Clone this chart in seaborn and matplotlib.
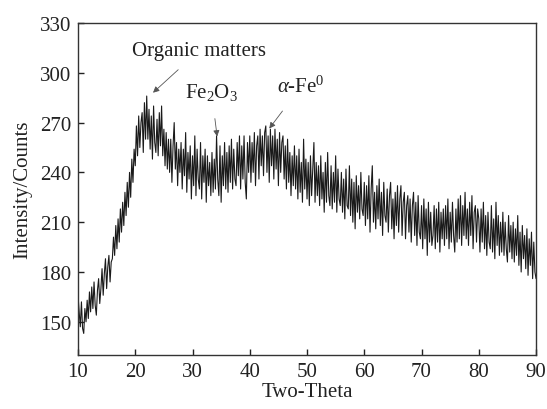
import numpy as np
import pandas as pd
import matplotlib
matplotlib.use("Agg")
import matplotlib.pyplot as plt
import seaborn as sns

# Two-theta grid (0.2 deg step) and intensity values
two_theta = [round(10 + 0.2 * i, 1) for i in range(401)]
intensity = [
    166, 156, 147, 162, 146, 143, 158, 150, 163, 152,
    168, 156, 171, 158, 174, 160, 154, 169, 176, 161,
    170, 182, 166, 179, 188, 170, 183, 190, 174, 186,
    188, 201, 190, 208, 194, 212, 198, 218, 204, 222,
    208, 228, 214, 234, 219, 240, 225, 248, 234, 254,
    244, 268, 250, 274, 255, 270, 276, 252, 282, 260,
    286, 260, 278, 254, 274, 248, 280, 258, 252, 272,
    250, 276, 256, 280, 250, 266, 244, 264, 242, 260,
    240, 260, 234, 256, 270, 242, 258, 232, 254, 240,
    258, 230, 254, 238, 264, 228, 252, 236, 256, 224,
    250, 232, 262, 226, 254, 236, 230, 258, 224, 250,
    234, 254, 222, 250, 232, 246, 226, 252, 228, 248,
    230, 262, 236, 226, 256, 222, 250, 232, 258, 230,
    252, 228, 256, 234, 260, 230, 254, 236, 232, 258,
    238, 262, 230, 256, 236, 262, 234, 224, 258, 240,
    262, 234, 258, 240, 264, 232, 256, 262, 236, 266,
    244, 262, 238, 264, 268, 240, 262, 234, 266, 244,
    262, 236, 266, 242, 260, 232, 264, 240, 258, 262,
    236, 256, 230, 260, 234, 252, 226, 250, 232, 256,
    230, 250, 224, 254, 228, 246, 222, 260, 230, 248,
    224, 246, 220, 250, 226, 242, 258, 222, 246, 226,
    244, 220, 250, 224, 240, 216, 246, 222, 252, 226,
    220, 244, 218, 240, 222, 250, 216, 242, 224, 220,
    240, 216, 236, 212, 242, 220, 218, 244, 214, 236,
    210, 234, 206, 238, 216, 232, 212, 240, 218, 214,
    234, 208, 232, 212, 238, 204, 230, 244, 210, 228,
    206, 232, 212, 236, 208, 228, 202, 234, 214, 210,
    230, 204, 226, 234, 206, 224, 200, 228, 208, 232,
    204, 224, 232, 202, 222, 228, 200, 220, 226, 204,
    224, 198, 220, 228, 202, 222, 196, 226, 204, 200,
    220, 194, 224, 200, 218, 190, 222, 198, 216, 196,
    202, 220, 194, 218, 198, 222, 192, 216, 200, 218,
    196, 220, 200, 224, 194, 216, 198, 222, 202, 192,
    218, 198, 224, 200, 226, 196, 220, 202, 228, 200,
    218, 196, 222, 202, 226, 194, 216, 220, 198, 218,
    212, 192, 218, 198, 222, 194, 214, 190, 216, 198,
    194, 220, 192, 212, 188, 222, 196, 214, 190, 210,
    192, 216, 190, 210, 194, 186, 214, 192, 208, 188,
    210, 186, 206, 190, 214, 184, 204, 180, 208, 188,
    202, 182, 206, 178, 200, 184, 204, 176, 198, 180,
    176,
]

x_ticks = [10, 20, 30, 40, 50, 60, 70, 80, 90]
y_ticks = [150, 180, 210, 240, 270, 300, 330]

sns.set_theme(style="ticks")
plt.rcParams["font.family"] = ["Liberation Serif", "DejaVu Serif"]
plt.rcParams["mathtext.fontset"] = "custom"
plt.rcParams["mathtext.rm"] = "Liberation Serif"
plt.rcParams["mathtext.it"] = "Liberation Serif:italic"

df = pd.DataFrame({"Two-Theta": two_theta, "Intensity": intensity})

fig = plt.figure(figsize=(5.47, 4.10), dpi=100)
ax = fig.add_axes([0.1426, 0.1317, 0.8374, 0.8098])
sns.lineplot(data=df, x="Two-Theta", y="Intensity", ax=ax, color="#1a1a1a",
             linewidth=0.8, estimator=None)

ax.set_xlim(10, 90)
ax.set_ylim(130, 330)
ax.set_xticks(x_ticks)
ax.set_yticks(y_ticks)
ax.tick_params(direction="in", length=4, width=1, labelsize=15, colors="#222222",
               top=False, right=False, pad=5)
for s in ax.spines.values():
    s.set_linewidth(1.0)
    s.set_color("#333333")
ax.set_xlabel("Two-Theta", fontsize=15, color="#222222", labelpad=1)
ax.set_ylabel("Intensity/Counts", fontsize=15, color="#222222", labelpad=5)

fs = 15
ax.annotate("Organic matters", xy=(23.1, 288), xytext=(31.2, 313.5),
            ha="center", va="center", fontsize=fs, color="#222222",
            arrowprops=dict(arrowstyle="-|>", color="#555555", lw=0.6,
                            mutation_scale=9, shrinkA=7, shrinkB=0))
ax.annotate("Fe$_2$O$_3$", xy=(34.3, 261.6), xytext=(33.3, 289),
            ha="center", va="center", fontsize=fs, color="#222222",
            arrowprops=dict(arrowstyle="-|>", color="#555555", lw=0.6,
                            mutation_scale=9, shrinkA=10, shrinkB=0))
ax.annotate(r"$\mathit{\alpha}$-Fe$^0$", xy=(43.4, 266.4), xytext=(49.0, 292),
            ha="center", va="center", fontsize=fs, color="#222222",
            arrowprops=dict(arrowstyle="-|>", color="#555555", lw=0.6,
                            mutation_scale=9, shrinkA=10, shrinkB=0))

fig.savefig("out.png", dpi=100)
